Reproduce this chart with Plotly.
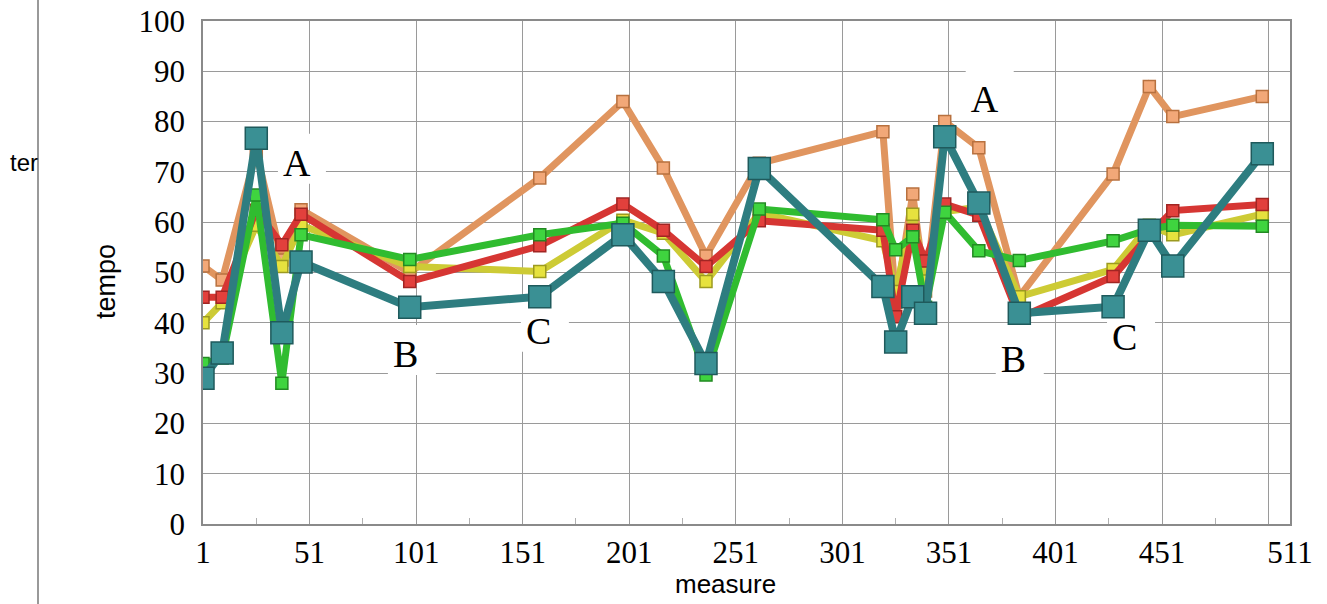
import plotly.graph_objects as go

# ---- data ----
measures = [1, 10, 26, 38, 47, 98, 159, 198, 217, 237, 262, 320, 326, 334, 340, 349, 365, 384, 428, 445, 456, 498]
orange = [51.3, 48.5, 74.0, 52.5, 62.5, 50.0, 68.8, 84.0, 70.8, 53.3, 71.7, 78.0, 44.0, 65.6, 46.3, 80.0, 74.8, 45.2, 69.6, 87.0, 81.0, 85.0]
red = [45.1, 45.1, 62.4, 55.5, 61.6, 48.2, 55.3, 63.6, 58.4, 51.2, 60.3, 58.4, 41.2, 58.4, 52.3, 63.6, 61.4, 41.0, 49.2, 57.5, 62.3, 63.5]
yellow = [40.0, 44.0, 59.4, 51.2, 59.4, 51.2, 50.2, 60.4, 57.8, 48.2, 61.8, 56.3, 46.2, 61.6, 48.3, 62.1, 63.0, 45.2, 50.6, 59.4, 57.5, 61.6]
green = [31.9, 33.0, 65.4, 28.0, 57.5, 52.6, 57.5, 59.8, 53.3, 29.6, 62.6, 60.5, 54.5, 57.1, 43.1, 62.0, 54.3, 52.4, 56.3, 58.6, 59.4, 59.2]
teal = [29.0, 34.0, 76.7, 38.0, 52.1, 43.1, 45.2, 57.5, 48.2, 31.9, 70.7, 47.2, 36.2, 45.2, 41.9, 77.0, 63.8, 41.9, 43.2, 58.4, 51.3, 73.6]

x_tickvals = [1, 51, 101, 151, 201, 251, 301, 351, 401, 451, 501, 511]
x_ticktext = ["1", "51", "101", "151", "201", "251", "301", "351", "401", "451", "", "511"]

labels = ["A", "B", "C", "A", "B", "C"]
label_x = [44.6, 96.2, 158.6, 367.3, 381.4, 433.6]
label_y = [72.6, 34.6, 39.2, 85.3, 33.6, 38.0]

series = [
    ("orange", orange, "#E0955F", "#F2A878", "#B8713F", 12, 7),
    ("yellow", yellow, "#CDCB35", "#E6E23E", "#9C9A20", 12, 7),
    ("red", red, "#D63633", "#E2403C", "#A12523", 12, 7),
    ("green", green, "#30BC30", "#3FD43F", "#238A23", 12, 7),
    ("teal", teal, "#2E7D80", "#3A9094", "#1F5A5C", 22, 8),
]

fig = go.Figure()
for name, vals, lc, fc, ec, ms, lw in series:
    fig.add_trace(go.Scatter(
        x=measures, y=vals, name=name, mode="lines+markers",
        line=dict(color=lc, width=lw),
        marker=dict(symbol="square", size=ms, color=fc, line=dict(color=ec, width=1.5)),
        showlegend=False,
    ))

serif = "Liberation Serif, Times New Roman, serif"
sans = "Liberation Sans, Arial, sans-serif"

fig.update_layout(
    width=1327, height=604,
    margin=dict(l=203, r=37, t=21, b=80),
    paper_bgcolor="white", plot_bgcolor="white",
    xaxis=dict(
        range=[1, 511], tickmode="array", tickvals=x_tickvals, ticktext=x_ticktext,
        showgrid=True, gridcolor="#9a9a9a", gridwidth=1,
        showline=True, linecolor="#8a8a8a", linewidth=1.5, mirror=True,
        zeroline=False, ticks="", ticklabelstandoff=0, automargin=False,
        tickfont=dict(family=serif, size=31, color="black"),
        minor=dict(tick0=26, dtick=50, ticks="inside", ticklen=6, tickcolor="#b0b0b0", showgrid=False),
    ),
    yaxis=dict(
        range=[0, 100], dtick=10, showgrid=True, gridcolor="#9a9a9a", gridwidth=1,
        showline=True, linecolor="#8a8a8a", linewidth=1.5, mirror=True,
        zeroline=False, ticks="", ticklabelstandoff=10, automargin=False,
        tickfont=dict(family=serif, size=31, color="black"),
    ),
)

# section labels: white boxes drawn between gridlines and traces
px_x = 510 / 1087.0   # data units per pixel (x)
px_y = 100 / 503.0    # data units per pixel (y)
for t, lx, ly in zip(labels, label_x, label_y):
    fig.add_shape(
        type="rect", xref="x", yref="y", layer="between",
        x0=lx - 18 * px_x, x1=lx + 30 * px_x, y0=ly - 25 * px_y, y1=ly + 25 * px_y,
        fillcolor="white", line=dict(width=0),
        label=dict(text=t, textposition="middle left", padding=2,
                   font=dict(family=serif, size=38, color="black")),
    )

annotations = []
annotations.append(dict(x=(106 - 203) / 1087, y=(524 - 282) / 503, xref="paper", yref="paper",
                        text="tempo", textangle=-90, showarrow=False,
                        font=dict(family=sans, size=27, color="black"),
                        xanchor="center", yanchor="middle"))
annotations.append(dict(x=(725 - 203) / 1087, y=(524 - 584) / 503, xref="paper", yref="paper",
                        text="measure", showarrow=False,
                        font=dict(family=sans, size=26, color="black"),
                        xanchor="center", yanchor="middle"))
annotations.append(dict(x=(8 - 203) / 1087, y=(524 - 162) / 503, xref="paper", yref="paper",
                        text="ter", showarrow=False,
                        font=dict(family=sans, size=24, color="black"),
                        xanchor="left", yanchor="middle"))
fig.update_layout(annotations=annotations)

fig.add_shape(type="line", xref="paper", yref="paper",
              x0=(38 - 203) / 1087, x1=(38 - 203) / 1087, y0=-0.2, y1=1.1,
              line=dict(color="#777777", width=1.5))

fig.write_html("out.html")
